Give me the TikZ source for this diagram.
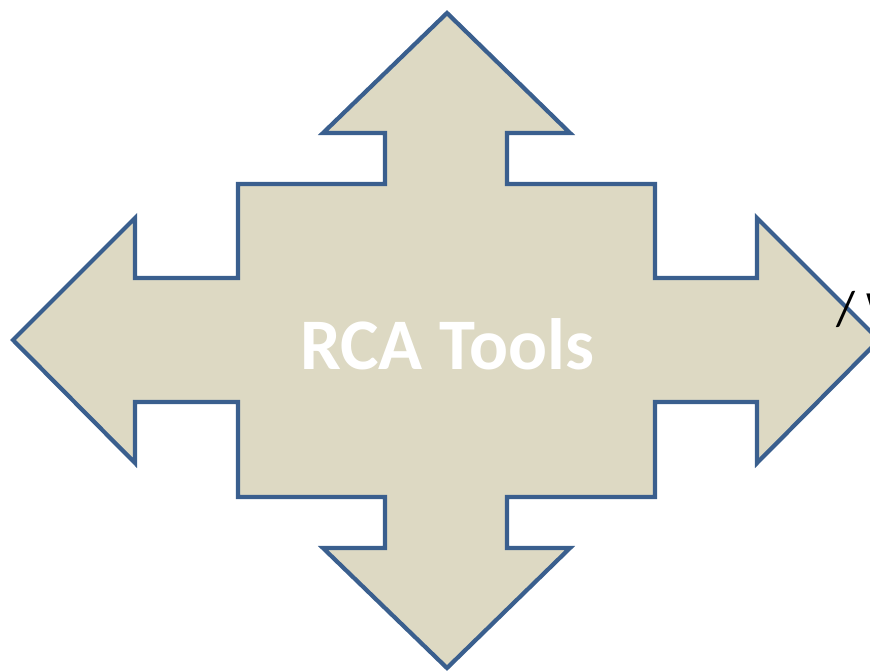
\documentclass[tikz,border=0pt]{standalone}
\usepackage{fontspec}
\setmainfont{Carlito}
\usetikzlibrary{positioning}
\definecolor{shapefill}{HTML}{DDD9C3}
\definecolor{shapeline}{HTML}{3A5F8E}

\begin{document}
\begin{tikzpicture}[x=0.03cm, y=-0.03cm,
    cross/.style={draw=shapeline, fill=shapefill, line width=3.6pt, line join=miter},
    title/.style={font=\bfseries\fontsize{62}{70}\selectfont, text=white},
    lbl/.style={font=\fontsize{42}{48}\selectfont, text=black, inner sep=0pt}
]
    \useasboundingbox (0,0) rectangle (870,670);
    \clip (0,0) rectangle (870,670);

    % four-way arrow
    \draw[cross] (447,13) -- (570,133) -- (507,133) -- (507,184) -- (655,184)
        -- (655,278) -- (757,278) -- (757,218) -- (879,340) -- (757,463)
        -- (757,402) -- (655,402) -- (655,497) -- (507,497) -- (507,548)
        -- (570,548) -- (447,668) -- (323,548) -- (385,548) -- (385,497)
        -- (238,497) -- (238,402) -- (135,402) -- (135,463) -- (13,340)
        -- (135,218) -- (135,278) -- (238,278) -- (238,184) -- (385,184)
        -- (385,133) -- (323,133) -- cycle;

    \node[title] (tools) at (447,344) {RCA Tools};
    \node[lbl, anchor=west] (cut) at (836,309) {/ W};
\end{tikzpicture}
\end{document}
